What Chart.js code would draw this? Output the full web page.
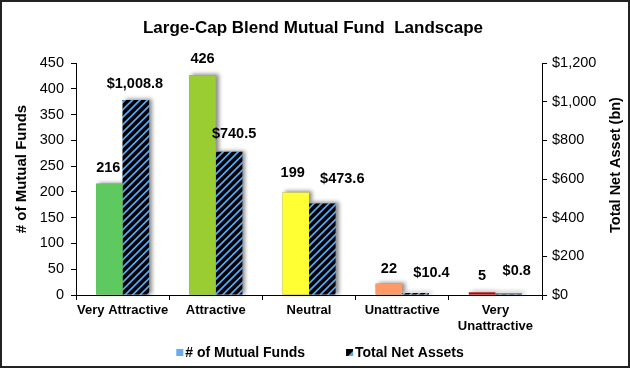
<!DOCTYPE html>
<html><head><meta charset="utf-8">
<script src="https://cdn.jsdelivr.net/npm/chart.js@4/dist/chart.umd.min.js"></script>
<style>html,body{margin:0;padding:0;background:#fff}#wrap{width:630px;height:369px;position:relative}</style>
</head><body><div id="wrap"><canvas id="c" width="630" height="369"></canvas></div>
<script>
const categories = ['Very Attractive', 'Attractive', 'Neutral', 'Unattractive', ['Very', 'Unattractive']];
const fundCounts = [216, 426, 199, 22, 5];
const netAssets = [1008.8, 740.5, 473.6, 10.4, 0.8];
const fundLabels = ['216', '426', '199', '22', '5'];
const assetLabels = ['$1,008.8', '$740.5', '$473.6', '$10.4', '$0.8'];
const seriesNames = ['# of Mutual Funds', 'Total Net Assets'];
const fundColors = ['#5DC95F', '#9ACD32', '#FFFF33', '#FF9966', '#CC0000'];
const leftAxisTitle = '# of Mutual Funds';
const rightAxisTitle = 'Total Net Asset (bn)';
const chartTitle = 'Large-Cap Blend Mutual Fund  Landscape';

const FONT = '"Liberation Sans", Arial, sans-serif';

function makeHatch() {
  const s = 7.5;
  const n = 15; // two periods in a 15px tile
  const c = document.createElement('canvas');
  c.width = n; c.height = n;
  const g = c.getContext('2d');
  g.fillStyle = '#000';
  g.fillRect(0, 0, n, n);
  g.strokeStyle = '#55A6F5';
  g.lineWidth = 1.8;
  g.beginPath();
  for (let k = -3; k <= 5; k++) {
    const off = k * s;
    g.moveTo(off - 2, n + 2);
    g.lineTo(off + n + 2, -2);
  }
  g.stroke();
  return c;
}
const ctx0 = document.getElementById('c').getContext('2d');
const hatch = ctx0.createPattern(makeHatch(), 'repeat');

const labelOpts = {
  offsets: [
    [[-1, 0], [0, 0], [-3, -3], [0, 1], [0, 0]],
    [[-1, 0], [5, -2], [20, -8], [16, -4], [8, -8]]
  ]
};

const decor = {
  id: 'decor',
  beforeDatasetsDraw(chart) {
    const ctx = chart.ctx;
    ctx.save();
    chart.data.datasets.forEach((ds, di) => {
      const meta = chart.getDatasetMeta(di);
      meta.data.forEach((bar, i) => {
        const { x, y, base, width } = bar.getProps(['x', 'y', 'base', 'width'], true);
        ctx.save();
        ctx.shadowColor = 'rgba(0,0,0,0.45)';
        ctx.shadowBlur = 4;
        ctx.shadowOffsetX = 3;
        ctx.shadowOffsetY = -1;
        ctx.fillStyle = '#888';
        const h = Math.max(base - y, 1.5);
        ctx.fillRect(x - width / 2, base - h, width, h);
        ctx.restore();
      });
    });
    ctx.restore();
  },
  afterDatasetsDraw(chart) {
    const ctx = chart.ctx;
    ctx.save();
    ctx.font = 'bold 14.5px ' + FONT;
    ctx.fillStyle = '#000';
    ctx.textAlign = 'center';
    ctx.textBaseline = 'middle';
    const texts = [fundLabels, assetLabels];
    chart.data.datasets.forEach((ds, di) => {
      const meta = chart.getDatasetMeta(di);
      meta.data.forEach((bar, i) => {
        const o = labelOpts.offsets[di][i];
        ctx.fillText(texts[di][i], bar.x + o[0], bar.y - 16 + o[1]);
      });
    });
    ctx.restore();
  },
  afterDraw(chart) {
    const ctx = chart.ctx;
    ctx.save();
    ctx.fillStyle = '#000';
    ctx.font = 'bold 17px ' + FONT;
    ctx.textAlign = 'center';
    ctx.textBaseline = 'middle';
    ctx.fillText(chartTitle, 313, 28);
    ctx.font = 'bold 15px ' + FONT;
    ctx.save();
    ctx.translate(22, 169);
    ctx.rotate(-Math.PI / 2);
    ctx.fillText(leftAxisTitle, 0, 0);
    ctx.restore();
    ctx.font = 'bold 14.5px ' + FONT;
    ctx.save();
    ctx.translate(616, 165);
    ctx.rotate(-Math.PI / 2);
    ctx.fillText(rightAxisTitle, 0, 0);
    ctx.restore();
    ctx.font = 'bold 14px ' + FONT;
    ctx.textAlign = 'left';
    const w1 = ctx.measureText(seriesNames[0]).width;
    const w2 = ctx.measureText(seriesNames[1]).width;
    const box = 7, gap = 2, between = 41;
    const total = box + gap + w1 + between + box + gap + w2;
    let x = 320 - total / 2;
    const ly = 353;
    ctx.fillStyle = '#6AAAF0';
    ctx.fillRect(x, ly - 4, box, box);
    ctx.fillStyle = '#000';
    ctx.fillText(seriesNames[0], x + box + gap, ly);
    x += box + gap + w1 + between;
    ctx.fillStyle = '#000';
    ctx.fillRect(x, ly - 4, box, box);
    ctx.fillStyle = '#55A6F5';
    ctx.beginPath();
    ctx.moveTo(x + box, ly - 4 + 2);
    ctx.lineTo(x + box, ly - 4 + box);
    ctx.lineTo(x + 2, ly - 4 + box);
    ctx.closePath();
    ctx.fill();
    ctx.fillStyle = '#000';
    ctx.fillText(seriesNames[1], x + box + gap, ly);
    ctx.strokeStyle = '#222';
    ctx.lineWidth = 2;
    ctx.strokeRect(1, 1, 628, 366);
    ctx.restore();
  }
};

const tickFont = { family: FONT, size: 14.5 };
new Chart(document.getElementById('c'), {
  type: 'bar',
  data: {
    labels: categories,
    datasets: [
      { label: seriesNames[0], data: fundCounts, backgroundColor: fundColors, yAxisID: 'y', barPercentage: 1, categoryPercentage: 0.57 },
      { label: seriesNames[1], data: netAssets, backgroundColor: hatch, yAxisID: 'y1', barPercentage: 1, categoryPercentage: 0.57 }
    ]
  },
  options: {
    responsive: false,
    animation: false,
    devicePixelRatio: 1,
    layout: { padding: { left: 10, right: 4, top: 63, bottom: 34 } },
    plugins: { legend: { display: false }, tooltip: { enabled: false }, title: { display: false } },
    scales: {
      x: {
        grid: { offset: true, drawOnChartArea: false, drawTicks: true, tickLength: 5, color: '#000' },
        border: { color: '#000', width: 1 },
        ticks: { font: { family: FONT, size: 13, weight: 'bold' }, color: '#000', padding: 3, maxRotation: 0, autoSkip: false },
        afterFit(s) { s.height = 40; }
      },
      y: {
        position: 'left', min: 0, max: 450,
        grid: { drawOnChartArea: false, drawTicks: true, tickLength: 5, color: '#000' },
        border: { color: '#000', width: 1 },
        ticks: { stepSize: 50, font: tickFont, color: '#000', padding: 7 },
        afterFit(s) { s.width = 66; }
      },
      y1: {
        position: 'right', min: 0, max: 1200,
        grid: { drawOnChartArea: false, drawTicks: true, tickLength: 5, color: '#000' },
        border: { color: '#000', width: 1 },
        ticks: { stepSize: 200, font: tickFont, color: '#000', padding: 5, callback: v => '$' + v.toLocaleString('en-US') },
        afterFit(s) { s.width = 84; }
      }
    }
  },
  plugins: [decor]
});
</script>
</body></html>
